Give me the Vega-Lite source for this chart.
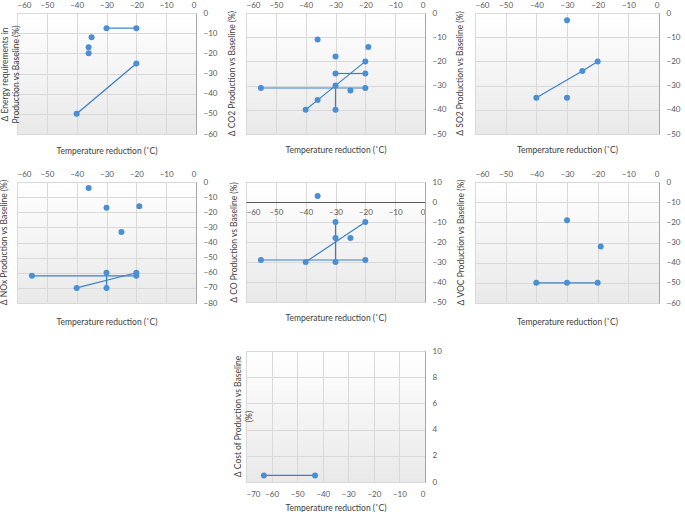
{
  "$schema": "https://vega.github.io/schema/vega-lite/v6.json",
  "padding": {"left": -2, "top": 0, "right": 0, "bottom": 0},
  "background": "white",
  "datasets": {
    "energy": [
      {"x": -30, "y": -7.5, "g": "a"}, {"x": -20, "y": -7.5, "g": "a"},
      {"x": -35, "y": -12, "g": "s1"}, {"x": -36, "y": -17, "g": "s2"}, {"x": -36, "y": -20, "g": "s3"},
      {"x": -40, "y": -50, "g": "b"}, {"x": -20, "y": -25, "g": "b"}
    ],
    "co2": [
      {"x": -55, "y": -31, "g": "a"}, {"x": -20, "y": -31, "g": "a"},
      {"x": -30, "y": -25, "g": "b"}, {"x": -20, "y": -25, "g": "b"},
      {"x": -30, "y": -30, "g": "c"}, {"x": -30, "y": -40, "g": "c"},
      {"x": -40, "y": -40, "g": "d"}, {"x": -36, "y": -36, "g": "d"}, {"x": -20, "y": -20, "g": "d"},
      {"x": -36, "y": -11, "g": "s1"}, {"x": -19, "y": -14, "g": "s2"}, {"x": -30, "y": -18, "g": "s3"}, {"x": -25, "y": -32, "g": "s4"}
    ],
    "so2": [
      {"x": -40, "y": -35, "g": "a"}, {"x": -25, "y": -24, "g": "a"}, {"x": -20, "y": -20, "g": "a"},
      {"x": -30, "y": -3, "g": "s1"}, {"x": -30, "y": -35, "g": "s2"}
    ],
    "nox": [
      {"x": -55, "y": -62, "g": "a"}, {"x": -20, "y": -62, "g": "a"},
      {"x": -30, "y": -60, "g": "b"}, {"x": -30, "y": -70, "g": "b"},
      {"x": -40, "y": -70, "g": "c"}, {"x": -20, "y": -60, "g": "c"},
      {"x": -36, "y": -4, "g": "s1"}, {"x": -30, "y": -17, "g": "s2"}, {"x": -19, "y": -16, "g": "s3"}, {"x": -25, "y": -33, "g": "s4"}
    ],
    "co": [
      {"x": -55, "y": -29, "g": "a"}, {"x": -20, "y": -29, "g": "a"},
      {"x": -30, "y": -10, "g": "b"}, {"x": -30, "y": -18, "g": "b"}, {"x": -30, "y": -30, "g": "b"},
      {"x": -40, "y": -30, "g": "c"}, {"x": -20, "y": -10, "g": "c"},
      {"x": -36, "y": 3, "g": "s1"}, {"x": -25, "y": -18, "g": "s2"}
    ],
    "voc": [
      {"x": -40, "y": -50, "g": "a"}, {"x": -30, "y": -50, "g": "a"}, {"x": -20, "y": -50, "g": "a"},
      {"x": -30, "y": -19, "g": "s1"}, {"x": -19, "y": -32, "g": "s2"}
    ],
    "cost": [
      {"x": -63, "y": 0.5, "g": "a"}, {"x": -43, "y": 0.5, "g": "a"}
    ],
    "blank": [{"x": -30, "y": 0}]
  },
  "columns": 3,
  "spacing": {"row": 48, "column": 50},
  "bounds": "flush",
  "align": "each",
  "concat": [
    {
      "width": 179, "height": 121,
      "data": {"name": "energy"},
      "encoding": {
        "x": {"field": "x", "type": "quantitative", "scale": {"domain": [-60, 0], "nice": false},
          "axis": {"orient": "top", "values": [-60, -50, -40, -30, -20, -10, 0], "title": "Temperature reduction (˚C)", "titleY": 137, "titleBaseline": "middle"}},
        "y": {"field": "y", "type": "quantitative", "scale": {"domain": [-60, 0], "nice": false},
          "axis": {"orient": "right", "values": [-60, -50, -40, -30, -20, -10, 0], "title": ["Δ Energy requirements in", "Production vs Baseline (%)"], "titleX": -192, "titleY": 61, "titleAngle": 270, "titleAlign": "center", "titleBaseline": "middle", "titleLineHeight": 11}}
      },
      "layer": [
        {"mark": {"type": "line", "color": "#3a80c9", "strokeWidth": 1.2}, "encoding": {"detail": {"field": "g"}}},
        {"mark": {"type": "point", "filled": true, "size": 36, "color": "#4a8fd5", "opacity": 1}, "encoding": {}}
      ]
    },
    {
      "width": 179, "height": 121,
      "data": {"name": "co2"},
      "encoding": {
        "x": {"field": "x", "type": "quantitative", "scale": {"domain": [-60, 0], "nice": false},
          "axis": {"orient": "top", "values": [-60, -50, -40, -30, -20, -10, 0], "title": "Temperature reduction (˚C)", "titleY": 136, "titleBaseline": "middle"}},
        "y": {"field": "y", "type": "quantitative", "scale": {"domain": [-50, 0], "nice": false},
          "axis": {"orient": "right", "values": [-50, -40, -30, -20, -10, 0], "title": "Δ CO2 Production vs Baseline (%)", "titleX": -194, "titleY": 60, "titleAngle": 270, "titleAlign": "center", "titleBaseline": "middle"}}
      },
      "layer": [
        {"mark": {"type": "line", "color": "#3a80c9", "strokeWidth": 1.2}, "encoding": {"detail": {"field": "g"}}},
        {"mark": {"type": "point", "filled": true, "size": 36, "color": "#4a8fd5", "opacity": 1}, "encoding": {}}
      ]
    },
    {
      "width": 184, "height": 121,
      "data": {"name": "so2"},
      "encoding": {
        "x": {"field": "x", "type": "quantitative", "scale": {"domain": [-60, 0], "nice": false},
          "axis": {"orient": "top", "values": [-60, -50, -40, -30, -20, -10, 0], "title": "Temperature reduction (˚C)", "titleY": 136, "titleBaseline": "middle"}},
        "y": {"field": "y", "type": "quantitative", "scale": {"domain": [-50, 0], "nice": false},
          "axis": {"orient": "right", "values": [-50, -40, -30, -20, -10, 0], "title": "Δ SO2 Production vs Baseline (%)", "titleX": -200, "titleY": 60, "titleAngle": 270, "titleAlign": "center", "titleBaseline": "middle"}}
      },
      "layer": [
        {"mark": {"type": "line", "color": "#3a80c9", "strokeWidth": 1.2}, "encoding": {"detail": {"field": "g"}}},
        {"mark": {"type": "point", "filled": true, "size": 36, "color": "#4a8fd5", "opacity": 1}, "encoding": {}}
      ]
    },
    {
      "width": 179, "height": 121,
      "data": {"name": "nox"},
      "encoding": {
        "x": {"field": "x", "type": "quantitative", "scale": {"domain": [-60, 0], "nice": false},
          "axis": {"orient": "top", "values": [-60, -50, -40, -30, -20, -10, 0], "title": "Temperature reduction (˚C)", "titleY": 139, "titleBaseline": "middle"}},
        "y": {"field": "y", "type": "quantitative", "scale": {"domain": [-80, 0], "nice": false},
          "axis": {"orient": "right", "values": [-80, -70, -60, -50, -40, -30, -20, -10, 0], "title": "Δ NOx Production vs Baseline (%)", "titleX": -193, "titleY": 60, "titleAngle": 270, "titleAlign": "center", "titleBaseline": "middle"}}
      },
      "layer": [
        {"mark": {"type": "line", "color": "#3a80c9", "strokeWidth": 1.2}, "encoding": {"detail": {"field": "g"}}},
        {"mark": {"type": "point", "filled": true, "size": 36, "color": "#4a8fd5", "opacity": 1}, "encoding": {}}
      ]
    },
    {
      "width": 179, "height": 120,
      "data": {"name": "co"},
      "encoding": {
        "x": {"field": "x", "type": "quantitative", "scale": {"domain": [-60, 0], "nice": false},
          "axis": {"orient": "bottom", "offset": -100, "values": [-60, -50, -40, -30, -20, -10, 0], "domain": true, "domainColor": "#595959", "labelPadding": 6, "title": "Temperature reduction (˚C)", "titleY": 115, "titleBaseline": "middle"}},
        "y": {"field": "y", "type": "quantitative", "scale": {"domain": [-50, 10], "nice": false},
          "axis": {"orient": "right", "values": [-50, -40, -30, -20, -10, 0, 10], "title": "Δ CO Production vs Baseline (%)", "titleX": -192, "titleY": 60, "titleAngle": 270, "titleAlign": "center", "titleBaseline": "middle"}}
      },
      "layer": [
        {"mark": {"type": "line", "color": "#3a80c9", "strokeWidth": 1.2}, "encoding": {"detail": {"field": "g"}}},
        {"mark": {"type": "point", "filled": true, "size": 36, "color": "#4a8fd5", "opacity": 1}, "encoding": {}}
      ]
    },
    {
      "width": 184, "height": 121,
      "data": {"name": "voc"},
      "encoding": {
        "x": {"field": "x", "type": "quantitative", "scale": {"domain": [-60, 0], "nice": false},
          "axis": {"orient": "top", "values": [-60, -50, -40, -30, -20, -10, 0], "title": "Temperature reduction (˚C)", "titleY": 139, "titleBaseline": "middle"}},
        "y": {"field": "y", "type": "quantitative", "scale": {"domain": [-60, 0], "nice": false},
          "axis": {"orient": "right", "values": [-60, -50, -40, -30, -20, -10, 0], "title": "Δ VOC Production vs Baseline (%)", "titleX": -199, "titleY": 60, "titleAngle": 270, "titleAlign": "center", "titleBaseline": "middle"}}
      },
      "layer": [
        {"mark": {"type": "line", "color": "#3a80c9", "strokeWidth": 1.2}, "encoding": {"detail": {"field": "g"}}},
        {"mark": {"type": "point", "filled": true, "size": 36, "color": "#4a8fd5", "opacity": 1}, "encoding": {}}
      ]
    },
    {
      "width": 179, "height": 131,
      "data": {"name": "blank"},
      "view": {"fill": null, "stroke": null},
      "mark": {"type": "point", "opacity": 0},
      "encoding": {
        "x": {"field": "x", "type": "quantitative", "axis": null},
        "y": {"field": "y", "type": "quantitative", "axis": null}
      }
    },
    {
      "width": 179, "height": 131,
      "data": {"name": "cost"},
      "encoding": {
        "x": {"field": "x", "type": "quantitative", "scale": {"domain": [-70, 0], "nice": false},
          "axis": {"orient": "bottom", "values": [-70, -60, -50, -40, -30, -20, -10, 0], "labelPadding": 8, "title": "Temperature reduction (˚C)", "titleY": 25, "titleBaseline": "middle"}},
        "y": {"field": "y", "type": "quantitative", "scale": {"domain": [0, 10], "nice": false},
          "axis": {"orient": "right", "values": [0, 2, 4, 6, 8, 10], "title": ["Δ Cost of  Production vs Baseline", "(%)"], "titleX": -188, "titleY": 65, "titleAngle": 270, "titleAlign": "center", "titleBaseline": "middle", "titleLineHeight": 11}}
      },
      "layer": [
        {"mark": {"type": "line", "color": "#3a80c9", "strokeWidth": 1.2}, "encoding": {"detail": {"field": "g"}}},
        {"mark": {"type": "point", "filled": true, "size": 36, "color": "#4a8fd5", "opacity": 1}, "encoding": {}}
      ]
    }
  ],
  "config": {
    "view": {
      "stroke": "#c8c8c8",
      "fill": {"gradient": "linear", "x1": 0, "y1": 0, "x2": 0, "y2": 1, "stops": [{"offset": 0, "color": "#ffffff"}, {"offset": 1, "color": "#e9e9e9"}]}
    },
    "axis": {
      "labelFont": "Lato", "labelFontSize": 8, "labelColor": "#595959",
      "titleFont": "Lato", "titleFontSize": 8.5, "titleFontWeight": "normal", "titleColor": "#404040",
      "gridColor": "#d9d9d9", "gridWidth": 1, "ticks": false, "domainColor": "#a6a6a6"
    },
    "axisX": {"domain": false, "labelPadding": 4},
    "axisY": {"domain": true, "domainColor": "#a6a6a6", "labelPadding": 7}
  }
}
